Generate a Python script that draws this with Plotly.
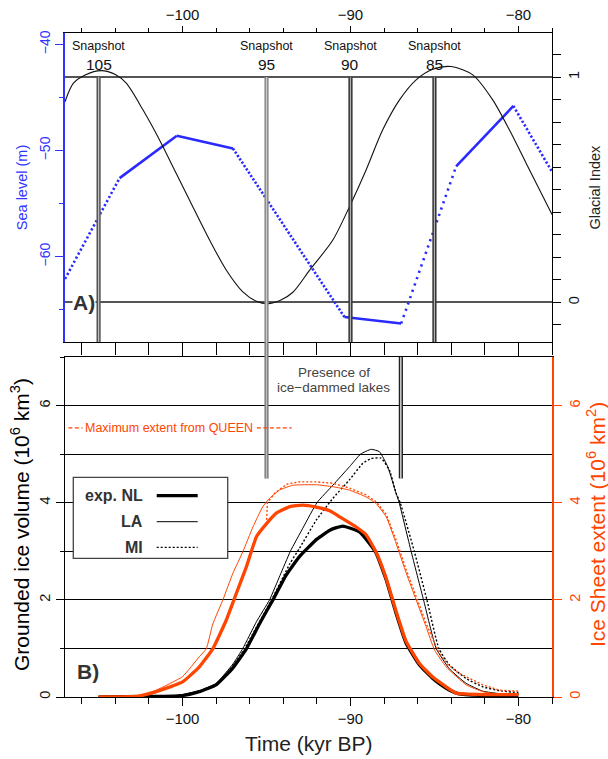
import math
import plotly.graph_objects as go

# ---------------- data ----------------
X_RANGE = [-107, -78]                 # kyr
SNAPSHOTS = [105, 95, 90, 85]         # kyr BP
LAKES = [-95, -87]                    # presence of ice-dammed lakes (kyr)
MAX_EXTENT_QUEEN = 5.54               # 10^6 km^2

# Panel A: glacial index
GI_T = [-107, -106.5, -105.8, -104.84, -104.0, -103.35, -102.36, -101.37, -100.38,
        -99.39, -98.39, -97.4, -96.41, -95.6, -94.92, -94.2, -93.43, -92.44, -91.05,
        -90.06, -89.07, -88.08, -87.08, -86.09, -85.1, -84.0, -82.72, -81.53, -80.54,
        -79.54, -78.0]
GI = [0.891, 0.973, 1.01, 1.029, 1.012, 0.973, 0.855, 0.721, 0.573,
      0.425, 0.277, 0.144, 0.047, 0.005, -0.006, 0.008, 0.045, 0.142, 0.277,
      0.425, 0.588, 0.766, 0.899, 0.988, 1.035, 1.047, 1.01, 0.899, 0.766,
      0.618, 0.39]

# Panel A: sea level (m)
SL_T = [-107, -103.75, -100.34, -97.0, -90.36, -86.98, -83.71, -80.3, -78.0]
SL = [-62.1, -52.6, -48.6, -49.8, -65.7, -66.3, -51.5, -45.8, -52.0]

# Panel B: grounded ice volume (10^6 km^3)
NL_VOL_T = [-105, -102, -100, -99, -98, -97, -96.2, -95.4, -94.62, -93.83, -93.04,
            -92.0, -91.2, -90.46, -89.46, -88.87, -88.47, -87.87, -87.28, -86.68,
            -85.89, -85.1, -84.3, -83.6, -82, -80]
NL_VOL = [0, 0.01, 0.03, 0.11, 0.25, 0.60, 0.99, 1.52, 2.0, 2.51, 2.89,
          3.25, 3.44, 3.52, 3.40, 3.16, 2.96, 2.41, 1.72, 1.10,
          0.66, 0.38, 0.18, 0.07, 0.03, 0.03]
LA_VOL_T = [-105, -101, -100, -99, -98, -97, -96.41, -95.6, -94.82, -94.2, -93.58,
            -92.8, -92.0, -91.05, -90.06, -89.4, -88.77, -88.27, -87.78, -87.28,
            -87.1, -86.39, -85.65, -84.9, -84.11, -83.11, -82.12, -81.13, -80]
LA_VOL = [0, 0.01, 0.05, 0.13, 0.28, 0.68, 1.0, 1.55, 2.0, 2.5, 3.0,
          3.5, 4.0, 4.36, 4.74, 5.0, 5.10, 5.05, 4.74, 4.19,
          4.0, 3.0, 2.0, 1.0, 0.58, 0.28, 0.12, 0.07, 0.07]
MI_VOL_T = [-105, -101, -100, -99, -98, -97, -96.3, -95.5, -94.7, -93.6, -93.04,
            -92.04, -91.05, -90.06, -89.27, -88.77, -88.18, -87.68, -87.28, -87.04,
            -86.2, -85.45, -84.74, -84.11, -83.11, -82.12, -81.13, -80]
MI_VOL = [0, 0.01, 0.04, 0.12, 0.26, 0.64, 1.0, 1.5, 2.0, 2.75, 3.06,
          3.64, 4.09, 4.47, 4.81, 4.91, 4.92, 4.67, 4.19, 4.0,
          3.0, 2.0, 1.0, 0.66, 0.38, 0.21, 0.13, 0.09]

# Panel B: ice sheet extent (10^6 km^2)
NL_EXT_T = [-105, -102.6, -101.57, -100, -99, -98.2, -97.4, -96.8, -96.2, -95.6,
            -95.0, -94.4, -93.6, -92.84, -92.04, -91.2, -90.65, -89.66, -89.07,
            -88.47, -87.87, -87.28, -86.68, -85.89, -85.1, -84.3, -83.7, -82, -80]
NL_EXT = [0, 0.02, 0.11, 0.31, 0.62, 0.99, 1.58, 2.13, 2.68, 3.30,
          3.57, 3.79, 3.92, 3.95, 3.91, 3.83, 3.71, 3.50, 3.34,
          2.98, 2.44, 1.76, 1.14, 0.69, 0.41, 0.21, 0.08, 0.05, 0.05]
LA_EXT_T = [-105, -102.56, -101.57, -100, -99, -98.59, -98.2, -97.6, -97, -96.41,
            -95.81, -95.22, -94.82, -94.23, -93.43, -92.04, -91.05, -90.06, -89.07,
            -88.47, -87.87, -87.28, -86.68, -86.09, -85.5, -85.0, -84.3, -83.11,
            -82.12, -81.13, -80]
LA_EXT = [0, 0.01, 0.14, 0.42, 0.83, 0.99, 1.5, 2.0, 2.55, 2.99,
          3.50, 3.92, 4.09, 4.26, 4.36, 4.37, 4.33, 4.26, 4.12,
          3.98, 3.71, 3.16, 2.55, 2.0, 1.45, 0.97, 0.62, 0.25,
          0.11, 0.06, 0.05]
MI_EXT_T = [-105, -102.6, -101.57, -100, -99, -98.2, -97.4, -96.8, -96.2, -95.6,
            -95.0, -94.95, -94.5, -93.8, -93.04, -92.04, -91.05, -90.06, -89.07,
            -88.47, -87.87, -87.28, -86.68, -86.09, -85.5, -84.9, -84.3, -83.6,
            -83.11, -82.12, -81.13, -80]
MI_EXT = [0, 0.02, 0.11, 0.31, 0.62, 0.99, 1.58, 2.13, 2.68, 3.30,
          3.57, 4.0, 4.2, 4.38, 4.43, 4.43, 4.40, 4.30, 4.16,
          4.02, 3.76, 3.23, 2.62, 2.07, 1.52, 1.04, 0.70, 0.50,
          0.42, 0.25, 0.14, 0.12]

LEGEND_NAMES = ["exp. NL", "LA", "MI"]

# ---------------- layout geometry / styles ----------------
W, H = 608, 759
PL, PR, PT, PB = 65, 552, 33, 697         # plot area in pixels
ML, MT = PL, PT
PW, PH = PR - PL, PB - PT
MR, MB = W - ML - PW, H - MT - PH
FONT = "Liberation Sans, Arial, sans-serif"
ORANGE = "#ff4500"
BLUE = "#3333ff"
SL_RANGE = [-68.05, -38.92]
GI_RANGE = [-0.176, 1.196]
V_RANGE = [0, 7]


def fx(px):
    return (px - PL) / PW


def fy(py):
    return (PB - py) / PH


A_DOM = [fy(342), 1.0]
B_DOM = [0, fy(357)]

fig = go.Figure()

# ---- Panel A: sea level, drawn segment by segment (steep parts look dotted)
ppk = PW / (X_RANGE[1] - X_RANGE[0])
ppm = (A_DOM[1] - A_DOM[0]) * PH / (SL_RANGE[1] - SL_RANGE[0])
for i in range(len(SL_T) - 1):
    dt = SL_T[i + 1] - SL_T[i]
    s = abs(SL[i + 1] - SL[i]) * ppm / (dt * ppk)
    spacing = 2.2 * math.sqrt(1 + s * s)
    dash = "solid" if spacing < 3.4 else "2.2px,%.1fpx" % (spacing - 2.2)
    fig.add_trace(go.Scatter(x=SL_T[i:i + 2], y=SL[i:i + 2], mode="lines",
                             line=dict(color="#2a2aff", width=2.6, dash=dash),
                             xaxis="x2", yaxis="y2", showlegend=False,
                             hoverinfo="skip"))

# ---- Panel A: glacial index
fig.add_trace(go.Scatter(x=GI_T, y=GI, mode="lines",
                         line=dict(color="#111111", width=1.1, shape="spline",
                                   smoothing=0.8),
                         xaxis="x2", yaxis="y3", showlegend=False))

# dummy trace so that the bottom axis of panel A is drawn
fig.add_trace(go.Scatter(x=[None], y=[None], xaxis="x3", yaxis="y2",
                         showlegend=False, hoverinfo="skip"))

# ---- Panel B: extent (orange) then volume (black)
fig.add_trace(go.Scatter(x=MI_EXT_T, y=MI_EXT, mode="lines",
                         line=dict(color=ORANGE, width=1.4, dash="2px,2px"),
                         xaxis="x", yaxis="y4", showlegend=False))
fig.add_trace(go.Scatter(x=LA_EXT_T, y=LA_EXT, mode="lines",
                         line=dict(color=ORANGE, width=1.0, shape="spline",
                                   smoothing=0.4),
                         xaxis="x", yaxis="y4", showlegend=False))
fig.add_trace(go.Scatter(x=NL_EXT_T, y=NL_EXT, mode="lines",
                         line=dict(color=ORANGE, width=3.3, shape="spline",
                                   smoothing=0.4),
                         xaxis="x", yaxis="y4", showlegend=False))
fig.add_trace(go.Scatter(x=MI_VOL_T, y=MI_VOL, mode="lines",
                         line=dict(color="black", width=1.4, dash="2px,2px",
                                   shape="spline", smoothing=0.4),
                         xaxis="x", yaxis="y", showlegend=False))
fig.add_trace(go.Scatter(x=LA_VOL_T, y=LA_VOL, mode="lines",
                         line=dict(color="black", width=1.0, shape="spline",
                                   smoothing=0.4),
                         xaxis="x", yaxis="y", showlegend=False))
fig.add_trace(go.Scatter(x=NL_VOL_T, y=NL_VOL, mode="lines",
                         line=dict(color="black", width=3.3, shape="spline",
                                   smoothing=0.4),
                         xaxis="x", yaxis="y", showlegend=False))

shapes = []
annotations = []


def note(**kw):
    kw.setdefault("showarrow", False)
    kw.setdefault("xanchor", "center")
    kw.setdefault("yanchor", "middle")
    annotations.append(kw)


def double_vline(xref, x, yref, y0, y1, outer, inner):
    shapes.append(dict(type="line", xref=xref, yref=yref, x0=x, x1=x, y0=y0, y1=y1,
                       line=dict(color=outer, width=4.2)))
    shapes.append(dict(type="line", xref=xref, yref=yref, x0=x, x1=x, y0=y0, y1=y1,
                       line=dict(color=inner, width=1.2)))


SNAP_OUTER = ["#555555", "#8a8a8a", "#333333", "#333333"]
SNAP_INNER = ["#bdbdbd", "#c8c8c8", "#b0b0b0", "#b0b0b0"]
for s, co, ci in zip(SNAPSHOTS, SNAP_OUTER, SNAP_INNER):
    double_vline("x2", -s, "y3", GI_RANGE[0], 1.0, co, ci)
    note(x=-s, y=fy(45.7), xref="x2", yref="paper", text="Snapshot",
         font=dict(size=12.5, color="#111111", family=FONT))
    note(x=-s, y=fy(64.5), xref="x2", yref="paper", text=str(s),
         font=dict(size=15.5, color="#111111", family=FONT))

# lake period lines in panel B
y_low = B_DOM[0] + (B_DOM[1] - B_DOM[0]) * 4.5 / (V_RANGE[1] - V_RANGE[0])
double_vline("x", LAKES[0], "paper", y_low, A_DOM[0], "#7f7f7f", "#bdbdbd")
double_vline("x", LAKES[1], "paper", y_low, B_DOM[1], "#222222", "#ffffff")
note(x=(LAKES[0] + LAKES[1]) / 2, y=fy(372), xref="x", yref="paper",
     text="Presence of", font=dict(size=13.5, color="#444444", family=FONT))
note(x=(LAKES[0] + LAKES[1]) / 2, y=fy(387.5), xref="x", yref="paper",
     text="ice\u2212dammed lakes", font=dict(size=13.5, color="#444444", family=FONT))

# QUEEN maximum extent
shapes.append(dict(type="line", xref="x", yref="y4", x0=-106.8, x1=-93.5,
                   y0=MAX_EXTENT_QUEEN, y1=MAX_EXTENT_QUEEN,
                   line=dict(color=ORANGE, width=1.2, dash="4px,2.5px")))
note(x=-100.83, y=MAX_EXTENT_QUEEN, xref="x", yref="y4",
     text="Maximum extent from QUEEN", bgcolor="white", borderpad=2,
     font=dict(size=12.5, color=ORANGE, family=FONT))

# panel labels
note(x=fx(72), y=0, xref="paper", yref="y3", xanchor="left", text="<b>A)</b>",
     bgcolor="white", borderpad=0, font=dict(size=21, color="#333333", family=FONT))
note(x=fx(75), y=fy(671.5), xref="paper", yref="paper", xanchor="left",
     text="<b>B)</b>", font=dict(size=21, color="#333333", family=FONT))

# legend box
shapes.append(dict(type="rect", xref="paper", yref="paper", x0=fx(73.3), x1=fx(227.7),
                   y0=fy(558.3), y1=fy(477.3), fillcolor="white",
                   line=dict(color="#444444", width=1.3), layer="above"))
LEG_STYLE = [dict(width=3.3, dash="solid"), dict(width=1.0, dash="solid"),
             dict(width=1.3, dash="2px,2px")]
for name, st, py in zip(LEGEND_NAMES, LEG_STYLE, [495.7, 521.7, 547.3]):
    shapes.append(dict(type="line", xref="paper", yref="paper", x0=fx(156.7),
                       x1=fx(197.7), y0=fy(py), y1=fy(py), layer="above",
                       line=dict(color="black", width=st["width"], dash=st["dash"])))
    note(x=fx(144.5), y=fy(py), xref="paper", yref="paper", xanchor="right",
         text="<b>%s</b>" % name, font=dict(size=16, color="#333333", family=FONT))

# axis titles
note(x=fx(21.7), y=fy(187.5), xref="paper", yref="paper", text="Sea level (m)",
     textangle=-90, font=dict(size=14.5, color=BLUE, family=FONT))
note(x=fx(594), y=fy(187.5), xref="paper", yref="paper", text="Glacial Index",
     textangle=-90, font=dict(size=14.5, color="#222222", family=FONT))
note(x=fx(20), y=fy(525), xref="paper", yref="paper",
     text="Grounded ice volume (10<sup>6</sup> km<sup>3</sup>)", textangle=-90,
     font=dict(size=21, color="black", family=FONT))
note(x=fx(596), y=fy(525), xref="paper", yref="paper",
     text="Ice Sheet extent (10<sup>6</sup> km<sup>2</sup>)", textangle=-90,
     font=dict(size=21, color=ORANGE, family=FONT))
note(x=fx(308.5), y=fy(743), xref="paper", yref="paper", text="Time (kyr BP)",
     font=dict(size=21, color="#222222", family=FONT))

XT_VALS = [-100, -90, -80]
XT_TEXT = ["\u2212100", "\u221290", "\u221280"]

common_x = dict(range=X_RANGE, tickmode="array", tickvals=XT_VALS, ticktext=XT_TEXT,
                showgrid=False, zeroline=False, showline=True, linecolor="black",
                linewidth=1.4, ticks="outside", tickcolor="black", tickwidth=1.2,
                tickfont=dict(size=15, color="#111111", family=FONT))

fig.update_layout(
    width=W, height=H, margin=dict(l=ML, r=MR, t=MT, b=MB, autoexpand=False),
    paper_bgcolor="white", plot_bgcolor="white", showlegend=False,
    font=dict(family=FONT),
    xaxis=dict(**common_x, domain=[0, 1], anchor="y", mirror=True, ticklen=8,
               minor=dict(tickmode="linear", tick0=-100, dtick=2, ticks="outside",
                          ticklen=6, tickcolor="black", tickwidth=1)),
    xaxis2=dict(**common_x, domain=[0, 1], anchor="y2", side="top", ticklen=6,
                minor=dict(tickmode="linear", tick0=-100, dtick=2, ticks="outside",
                           ticklen=4, tickcolor="black", tickwidth=1)),
    xaxis3=dict(**common_x, overlaying="x2", anchor="y2", side="bottom", ticklen=14,
                showticklabels=False,
                minor=dict(tickmode="linear", tick0=-100, dtick=2, ticks="outside",
                           ticklen=12, tickcolor="black", tickwidth=1)),
    yaxis=dict(domain=B_DOM, anchor="x", range=V_RANGE, tickmode="array",
               tickvals=[0, 2, 4, 6], ticktext=["0", "2", "4", "6"], tickangle=-90,
               ticks="outside", ticklen=8, tickcolor="black", tickwidth=1.2,
               showline=True, linecolor="black", linewidth=1.4, zeroline=False,
               showgrid=True, gridcolor="black", gridwidth=1.3,
               minor=dict(tickmode="linear", tick0=0, dtick=1, ticks="outside",
                          ticklen=4, tickcolor="black", showgrid=True,
                          gridcolor="black", gridwidth=1.3),
               tickfont=dict(size=14.5, color="#111111", family=FONT)),
    yaxis4=dict(overlaying="y", anchor="x", side="right", range=V_RANGE,
                tickmode="array", tickvals=[0, 2, 4, 6], ticktext=["0", "2", "4", "6"],
                tickangle=-90, ticks="outside", ticklen=8, tickcolor=ORANGE,
                tickwidth=1.4, showline=True, linecolor=ORANGE, linewidth=2.2,
                zeroline=False, showgrid=False,
                tickfont=dict(size=14.5, color=ORANGE, family=FONT)),
    yaxis2=dict(domain=A_DOM, anchor="x2", range=SL_RANGE, tickmode="array",
                tickvals=[-60, -50, -40], ticktext=["\u221260", "\u221250", "\u221240"],
                tickangle=-90, ticks="outside", ticklen=8, tickcolor=BLUE,
                tickwidth=1.2, showline=True, linecolor=BLUE, linewidth=1.6,
                zeroline=False, showgrid=False,
                minor=dict(tickmode="linear", tick0=-40, dtick=5, ticks="outside",
                           ticklen=4, tickcolor=BLUE),
                tickfont=dict(size=14, color=BLUE, family=FONT)),
    yaxis3=dict(overlaying="y2", anchor="x2", side="right", range=GI_RANGE,
                tickmode="array", tickvals=[0, 1], ticktext=["0", "1"], tickangle=-90,
                ticks="outside", ticklen=8, tickcolor="black", tickwidth=1.2,
                showline=True, linecolor="black", linewidth=1.4, zeroline=False,
                showgrid=True, gridcolor="#555555", gridwidth=1.5,
                minor=dict(tickmode="linear", tick0=0, dtick=0.1, ticks="outside",
                           ticklen=8, tickcolor="black", showgrid=False),
                tickfont=dict(size=14.5, color="#111111", family=FONT)),
    shapes=shapes, annotations=annotations,
)

# remove the page's default body margin so the figure sits at the window origin
fig.write_html("out.html", config={"displayModeBar": False},
               post_script="document.body.style.margin='0';"
                           "document.body.style.overflow='hidden';")
